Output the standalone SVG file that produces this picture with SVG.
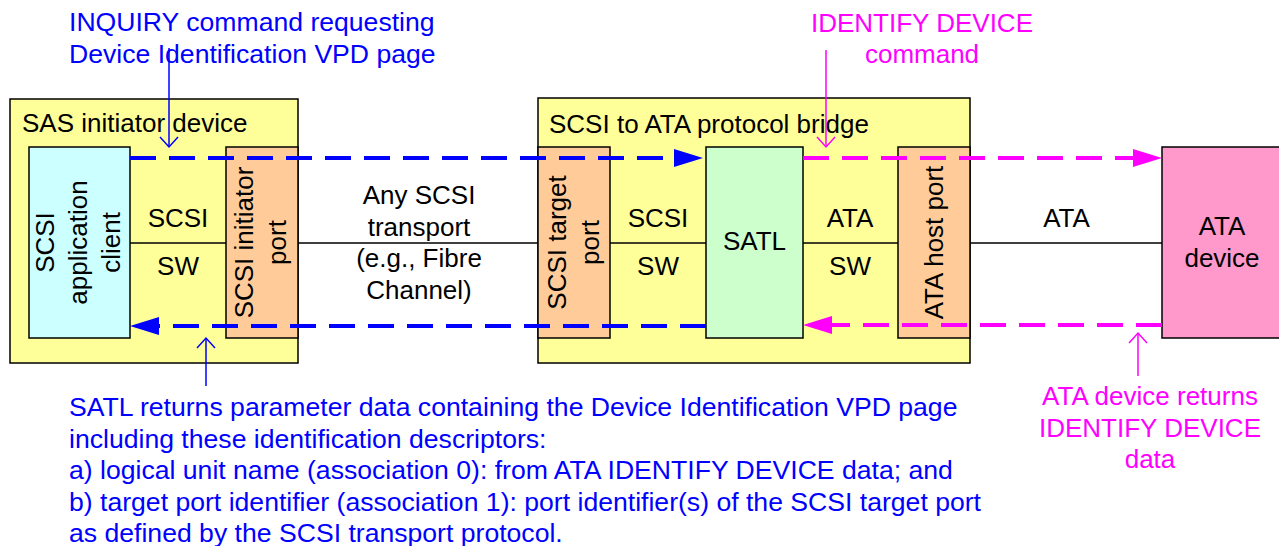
<svg xmlns="http://www.w3.org/2000/svg" width="1279" height="546" viewBox="0 0 1279 546">
<style>
text{font-family:"Liberation Sans",Arial,sans-serif;font-size:26px;fill:#000}
.c{text-anchor:middle}
.blue{fill:#0000FF;font-size:26.6px}
.mag{fill:#FF00FF}
.box{stroke:#000;stroke-width:1.5}
.yel{fill:#FFFF99}
.port{fill:#FFCC99}
.wire{stroke:#000;stroke-width:1.5;fill:none}
.dashB{stroke:#0000FF;stroke-width:4;stroke-dasharray:26 13;fill:none}
.dashM{stroke:#FF00FF;stroke-width:4;stroke-dasharray:26 13;fill:none}
.callB{stroke:#0000FF;stroke-width:1.5;fill:none}
.callM{stroke:#FF00FF;stroke-width:1.5;fill:none}
</style>
<defs>
<marker id="triB" markerUnits="userSpaceOnUse" markerWidth="30" markerHeight="20" refX="0" refY="9" orient="auto" overflow="visible"><path d="M0,0 L29,9 L0,18 z" fill="#0000FF"/></marker>
<marker id="triM" markerUnits="userSpaceOnUse" markerWidth="30" markerHeight="20" refX="0" refY="9" orient="auto" overflow="visible"><path d="M0,0 L29,9 L0,18 z" fill="#FF00FF"/></marker>
<marker id="veeB" markerUnits="userSpaceOnUse" markerWidth="14" markerHeight="20" refX="10" refY="9" orient="auto" overflow="visible"><path d="M0,0 L10,9 L0,18" fill="none" stroke="#0000FF" stroke-width="1.5"/></marker>
<marker id="veeM" markerUnits="userSpaceOnUse" markerWidth="14" markerHeight="20" refX="10" refY="9" orient="auto" overflow="visible"><path d="M0,0 L10,9 L0,18" fill="none" stroke="#FF00FF" stroke-width="1.5"/></marker>
</defs>
<rect width="1279" height="546" fill="#FFFFFF"/>

<g id="sas-initiator-device">
<rect class="box yel" x="10" y="99" width="288" height="264"/>
<text x="22" y="132">SAS initiator device</text>
<text class="c" x="178" y="227">SCSI</text>
<text class="c" x="178" y="275">SW</text>
</g>
<g id="scsi-application-client">
<rect class="box" fill="#CCFFFF" x="29" y="147" width="101" height="191"/>
<g transform="translate(0,242.5) rotate(-90)">
<text class="c" x="0" y="54">SCSI</text>
<text class="c" x="0" y="87">application</text>
<text class="c" x="0" y="120">client</text>
</g>
</g>
<g id="scsi-initiator-port">
<rect class="box port" x="226" y="147" width="72" height="191"/>
<g transform="translate(0,242.5) rotate(-90)">
<text class="c" x="0" y="253">SCSI initiator</text>
<text class="c" x="0" y="286">port</text>
</g>
</g>

<g id="transport-label">
<text class="c" x="419" y="204">Any SCSI</text>
<text class="c" x="419" y="236">transport</text>
<text class="c" x="419" y="267">(e.g., Fibre</text>
<text class="c" x="419" y="299">Channel)</text>
</g>

<g id="scsi-to-ata-bridge">
<rect class="box yel" x="538" y="98" width="432" height="265"/>
<text x="549" y="133">SCSI to ATA protocol bridge</text>
<text class="c" x="658" y="227">SCSI</text>
<text class="c" x="658" y="275">SW</text>
<text class="c" x="850" y="227">ATA</text>
<text class="c" x="850" y="275">SW</text>
</g>
<g id="scsi-target-port">
<rect class="box port" x="538" y="147" width="72" height="191"/>
<g transform="translate(0,242.5) rotate(-90)">
<text class="c" x="0" y="566">SCSI target</text>
<text class="c" x="0" y="599">port</text>
</g>
</g>
<g id="satl">
<rect class="box" fill="#CCFFCC" x="706" y="147" width="97" height="191"/>
<text class="c" x="754.5" y="250">SATL</text>
</g>
<g id="ata-host-port">
<rect class="box port" x="898" y="147" width="72" height="191"/>
<g transform="translate(0,242.5) rotate(-90)">
<text class="c" x="0" y="943">ATA host port</text>
</g>
</g>

<g id="ata-link-label">
<text class="c" x="1066.5" y="227">ATA</text>
</g>
<g id="ata-device">
<rect class="box" fill="#FF99CC" x="1162" y="147" width="130" height="191"/>
<text class="c" x="1222" y="235">ATA</text>
<text class="c" x="1222" y="267">device</text>
</g>

<g id="connectors">
<line class="wire" x1="130" y1="243" x2="226" y2="243"/>
<line class="wire" x1="298" y1="243" x2="538" y2="243"/>
<line class="wire" x1="610" y1="243" x2="706" y2="243"/>
<line class="wire" x1="803" y1="243" x2="898" y2="243"/>
<line class="wire" x1="970" y1="243" x2="1162" y2="243"/>
<line class="dashB" x1="130" y1="158" x2="674" y2="158" marker-end="url(#triB)"/>
<line class="dashB" x1="706" y1="326" x2="159" y2="326" marker-end="url(#triB)"/>
<line class="dashM" x1="803" y1="158" x2="1133" y2="158" marker-end="url(#triM)"/>
<line class="dashM" x1="1162" y1="325" x2="832" y2="325" marker-end="url(#triM)"/>
<line class="callB" x1="169" y1="48" x2="169" y2="147" marker-end="url(#veeB)"/>
<line class="callB" x1="206" y1="386" x2="206" y2="338" marker-end="url(#veeB)"/>
<line class="callM" x1="826" y1="50" x2="826" y2="147" marker-end="url(#veeM)"/>
<line class="callM" x1="1138" y1="376" x2="1138" y2="333" marker-end="url(#veeM)"/>
</g>

<g id="inquiry-note">
<text class="blue" x="69" y="31">INQUIRY command requesting</text>
<text class="blue" x="69" y="63">Device Identification VPD page</text>
</g>
<g id="identify-note">
<text class="mag c" x="922" y="32">IDENTIFY DEVICE</text>
<text class="mag c" x="922" y="63">command</text>
</g>
<g id="ata-returns-note">
<text class="mag c" x="1150" y="405">ATA device returns</text>
<text class="mag c" x="1150" y="437">IDENTIFY DEVICE</text>
<text class="mag c" x="1150" y="468">data</text>
</g>
<g id="satl-returns-note">
<text class="blue" x="69" y="416">SATL returns parameter data containing the Device Identification VPD page</text>
<text class="blue" x="69" y="447.5">including these identification descriptors:</text>
<text class="blue" x="69" y="479">a) logical unit name (association 0): from ATA IDENTIFY DEVICE data; and</text>
<text class="blue" x="69" y="510.5">b) target port identifier (association 1): port identifier(s) of the SCSI target port</text>
<text class="blue" x="69" y="542">as defined by the SCSI transport protocol.</text>
</g>
</svg>
